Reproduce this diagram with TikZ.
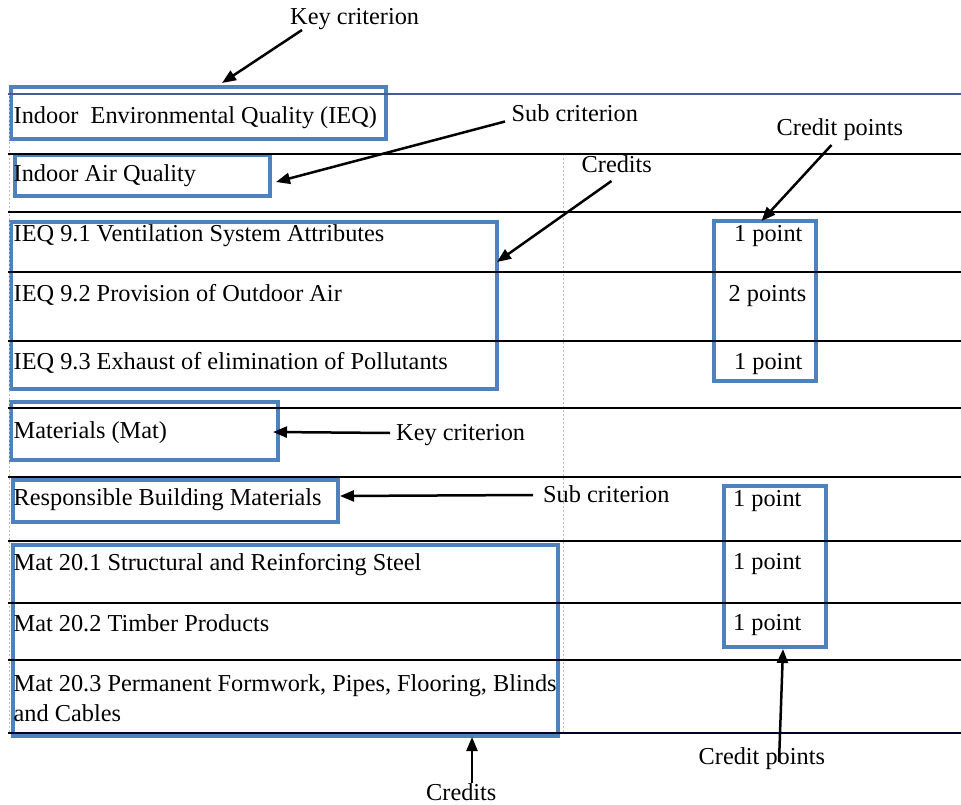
\documentclass[tikz,border=0pt]{standalone}
\usepackage{fontspec}
\setmainfont{Liberation Serif}
\usetikzlibrary{arrows.meta}
\definecolor{boxblue}{RGB}{79,129,189}
\definecolor{topblue}{RGB}{70,90,150}
\definecolor{gridgray}{RGB}{190,190,190}
\begin{document}
\begin{tikzpicture}[x=1bp,y=-1bp,
  rowtext/.style={anchor=base west, inner sep=0pt, font=\fontsize{24.4}{28}\selectfont},
  lbl/.style={anchor=base west, inner sep=0pt, font=\fontsize{24.4}{28}\selectfont},
  bluebox/.style={draw=boxblue, line width=4bp, inner sep=0pt},
  rowrule/.style={line width=1.4bp, black},
  gridrule/.style={line width=0.8bp, gridgray, dash pattern=on 2bp off 2bp},
  arr/.style={line width=2.5bp, -{Triangle[length=14bp,width=11bp]}},
]
\useasboundingbox (0,0) rectangle (961,805);

% blue boxes
\node[bluebox, minimum width=374bp, minimum height=52bp] (bIEQ) at (198.5,113) {};
\node[bluebox, minimum width=254.5bp, minimum height=40.5bp] (bIAQ) at (142.25,175.25) {};
\node[bluebox, minimum width=485bp, minimum height=167bp] (bCrA) at (254,305) {};
\node[bluebox, minimum width=102.3bp, minimum height=160bp] (bCPA) at (764.85,301) {};
\node[bluebox, minimum width=266.5bp, minimum height=58.5bp] (bMat) at (144.75,430.75) {};
\node[bluebox, minimum width=324bp, minimum height=42bp] (bRBM) at (175.5,501) {};
\node[bluebox, minimum width=544.5bp, minimum height=191bp] (bCrB) at (285.25,640.5) {};
\node[bluebox, minimum width=102bp, minimum height=161bp] (bCPB) at (775,566.5) {};

% table grid
\coordinate (gL) at (9,94);
\coordinate (gLb) at (9,733);
\coordinate (gM) at (563,154);
\coordinate (gMb) at (563,733);
\draw[gridrule] (gL) -- (gLb);
\draw[gridrule] (gM) -- (gMb);
\coordinate (t0) at (8,94);   \coordinate (t0r) at (961,94);
\draw[line width=1.2bp, topblue] (t0) -- (t0r);
\foreach \yy/\nm in {154/a,212/b,272/c,341/d,408/e,477/f,541/g,603/h,660/i}{
  \coordinate (r\nm) at (8,\yy);
  \coordinate (r\nm r) at (961,\yy);
  \draw[rowrule] (r\nm) -- (r\nm r);
}
\coordinate (tz) at (8,733);  \coordinate (tzr) at (961,733);
\draw[line width=1.4bp, black!85!blue] (tz) -- (tzr);

% row texts
\node[rowtext] (xIEQ) at (13.5,123.3) {Indoor\ \ Environmental Quality (IEQ)};
\node[rowtext] (xIAQ) at (13.5,181.7) {Indoor Air Quality};
\node[rowtext] (xA1) at (13.5,241) {IEQ 9.1 Ventilation System Attributes};
\node[rowtext] (xA2) at (13.5,301) {IEQ 9.2 Provision of Outdoor Air};
\node[rowtext] (xA3) at (13.5,369) {IEQ 9.3 Exhaust of elimination of Pollutants};
\node[rowtext] (xMat) at (13.5,438.5) {Materials (Mat)};
\node[rowtext] (xRBM) at (13.5,505) {Responsible Building Materials};
\node[rowtext] (xB1) at (13.5,570) {Mat 20.1 Structural and Reinforcing Steel};
\node[rowtext] (xB2) at (13.5,631) {Mat 20.2 Timber Products};
\node[rowtext] (xB3) at (13.5,691) {Mat 20.3 Permanent Formwork, Pipes, Flooring, Blinds};
\node[rowtext] (xB3b) at (13.5,721) {and Cables};

% points
\node[rowtext] (pA1) at (734,241) {1 point};
\node[rowtext] (pA2) at (728.5,301) {2 points};
\node[rowtext] (pA3) at (734,369) {1 point};
\node[rowtext] (pB1) at (733,506) {1 point};
\node[rowtext] (pB2) at (733,569) {1 point};
\node[rowtext] (pB3) at (733,630) {1 point};

% annotation labels
\node[lbl] (kcA) at (290,25) {Key criterion};
\node[lbl] (scA) at (511.5,121.7) {Sub criterion};
\node[lbl] (cpA) at (776.5,135) {Credit points};
\node[lbl] (crA) at (581.5,172.3) {Credits};
\node[lbl] (kcB) at (396,440) {Key criterion};
\node[lbl] (scB) at (543,502) {Sub criterion};
\node[lbl] (cpB) at (698.5,764) {Credit points};
\node[lbl] (crB) at (426,800) {Credits};

% arrows
\coordinate (kcAt) at (302,30);   \coordinate (kcAh) at (222,83);
\coordinate (scAt) at (505,121.5); \coordinate (scAh) at (276,182);
\coordinate (cpAt) at (831.5,145); \coordinate (cpAh) at (761.5,221);
\coordinate (crAt) at (611.5,181); \coordinate (crAh) at (497,262);
\coordinate (kcBt) at (390,433);  \coordinate (kcBh) at (273,432);
\coordinate (scBt) at (533,495);  \coordinate (scBh) at (340,496);
\coordinate (cpBt) at (779,762);  \coordinate (cpBh) at (783,649);
\coordinate (crBt) at (472,783);  \coordinate (crBh) at (472,737);
\draw[arr] (kcAt) -- (kcAh);
\draw[arr] (scAt) -- (scAh);
\draw[arr] (cpAt) -- (cpAh);
\draw[arr] (crAt) -- (crAh);
\draw[arr] (kcBt) -- (kcBh);
\draw[arr] (scBt) -- (scBh);
\draw[arr] (cpBt) -- (cpBh);
\draw[arr] (crBt) -- (crBh);
\end{tikzpicture}
\end{document}
